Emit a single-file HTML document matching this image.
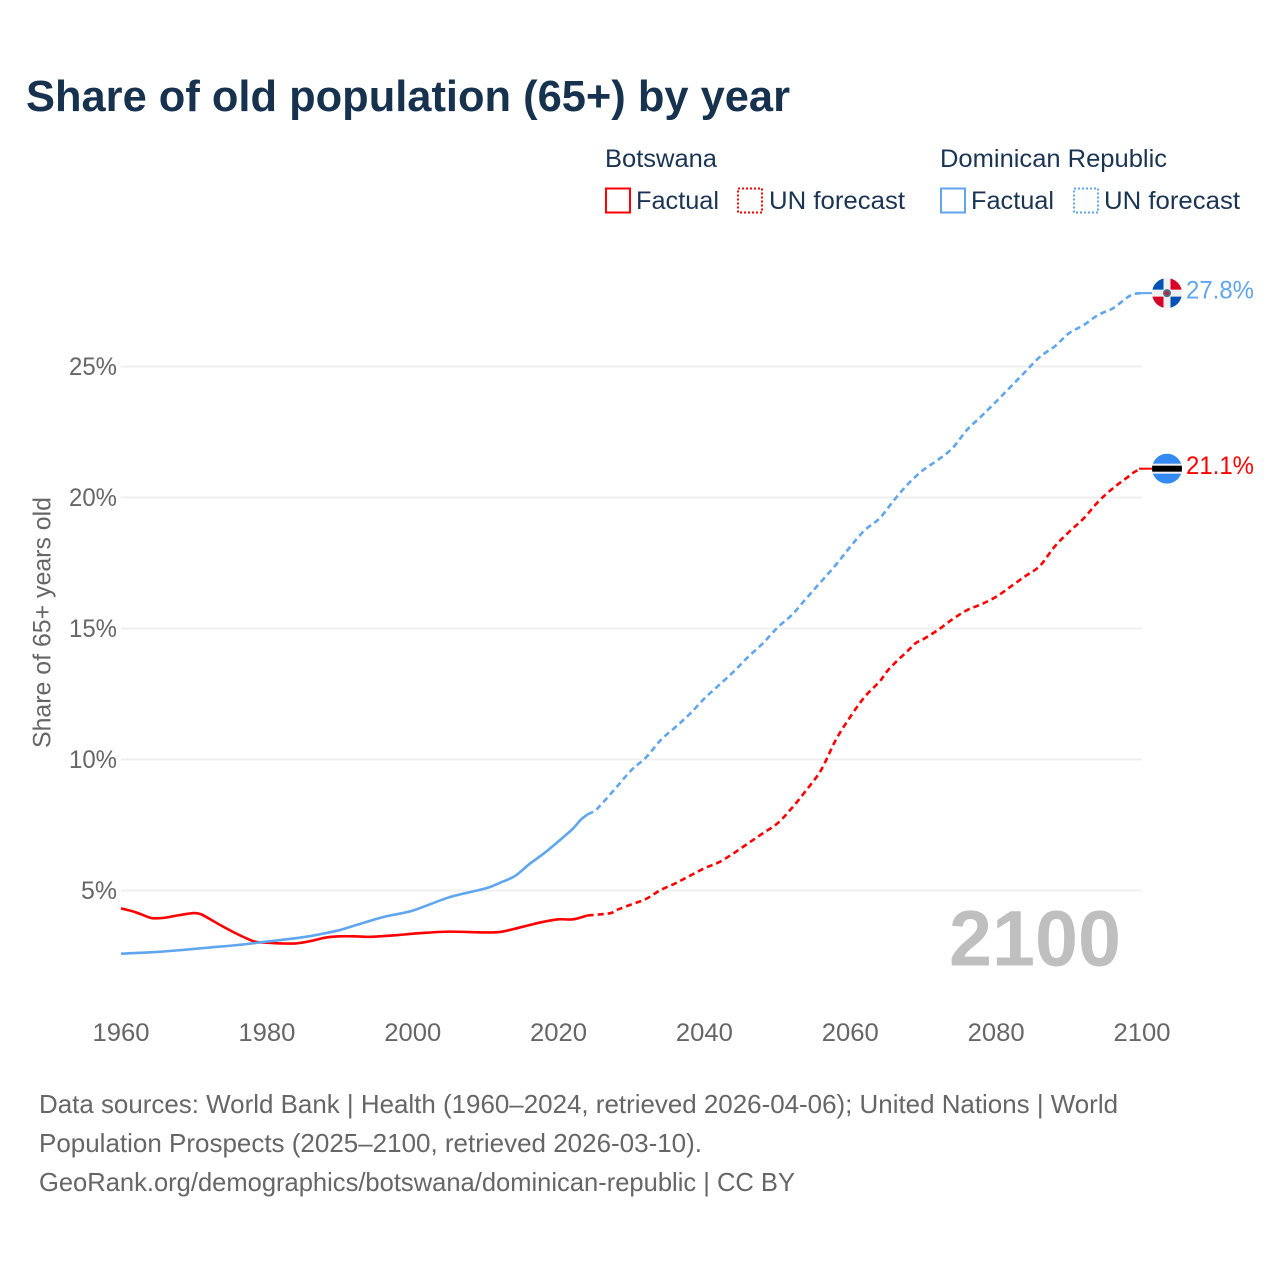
<!DOCTYPE html>
<html lang="en">
<head>
<meta charset="utf-8">
<title>Share of old population (65+) by year</title>
<style>
html,body{margin:0;padding:0;background:#fff;width:1280px;height:1280px;overflow:hidden}
svg{display:block}
text{font-family:"Liberation Sans",sans-serif}
.dark{fill:#1a3453}
.gray{fill:#666}
</style>
</head>
<body>
<svg id="chart" width="1280" height="1280" viewBox="0 0 1280 1280" xmlns="http://www.w3.org/2000/svg">
  <defs>
    <clipPath id="flag-clip"><circle cx="0" cy="0" r="15"/></clipPath>
  </defs>
  <text x="26" y="111" font-size="44" font-weight="700" fill="#17324f" textLength="764" lengthAdjust="spacingAndGlyphs">Share of old population (65+) by year</text>

  <g>
    <text class="dark" x="605" y="167" font-size="25" textLength="112" lengthAdjust="spacingAndGlyphs">Botswana</text>
    <rect x="606" y="188.500" width="24" height="24" fill="none" stroke="#ff0000" stroke-width="2"/>
    <text class="dark" x="636" y="209" font-size="25" textLength="83" lengthAdjust="spacingAndGlyphs">Factual</text>
    <rect x="738" y="188.500" width="24" height="24" fill="none" stroke="#ff0000" stroke-width="2" stroke-dasharray="2 2"/>
    <text class="dark" x="769" y="209" font-size="25" textLength="136" lengthAdjust="spacingAndGlyphs">UN forecast</text>

    <text class="dark" x="940" y="167" font-size="25" textLength="227" lengthAdjust="spacingAndGlyphs">Dominican Republic</text>
    <rect x="941" y="188.500" width="24" height="24" fill="none" stroke="#5fa6ee" stroke-width="2"/>
    <text class="dark" x="971" y="209" font-size="25" textLength="83" lengthAdjust="spacingAndGlyphs">Factual</text>
    <rect x="1074" y="188.500" width="24" height="24" fill="none" stroke="#5fa6ee" stroke-width="2" stroke-dasharray="2 2"/>
    <text class="dark" x="1104" y="209" font-size="25" textLength="136" lengthAdjust="spacingAndGlyphs">UN forecast</text>
  </g>

  <text class="gray" transform="translate(50.500,748) rotate(-90)" font-size="25" textLength="251" lengthAdjust="spacingAndGlyphs">Share of 65+ years old</text>

  <g id="grid"></g>
  <g id="yticks"></g>
  <g id="xticks"></g>

  <text id="year-label" x="1121" y="965.500" text-anchor="end" font-size="79" font-weight="700" fill="#bfbfbf" textLength="172" lengthAdjust="spacingAndGlyphs"></text>

  <g id="series"></g>

  <g id="flag-do">
    <g clip-path="url(#flag-clip)">
      <rect x="-15" y="-15" width="30" height="30" fill="#f0f0f0"/>
      <rect x="-15" y="-15" width="11.500" height="11.500" fill="#0052b4"/>
      <rect x="3.500" y="-15" width="11.500" height="11.500" fill="#d80027"/>
      <rect x="-15" y="3.500" width="11.500" height="11.500" fill="#d80027"/>
      <rect x="3.500" y="3.500" width="11.500" height="11.500" fill="#0052b4"/>
      <circle r="4" fill="#496e8c"/>
      <circle r="2" fill="#c8203a"/>
    </g>
  </g>
  <g id="flag-bw">
    <g clip-path="url(#flag-clip)">
      <rect x="-15" y="-15" width="30" height="30" fill="#338af3"/>
      <rect x="-15" y="-5" width="30" height="10" fill="#f0f0f0"/>
      <rect x="-15" y="-3" width="30" height="6" fill="#000"/>
    </g>
  </g>
  <text id="value-do" x="1186" font-size="25" fill="#5fa6ee" textLength="68" lengthAdjust="spacingAndGlyphs"></text>
  <text id="value-bw" x="1186" font-size="25" fill="#ff0000" textLength="68" lengthAdjust="spacingAndGlyphs"></text>

  <g>
    <text class="gray" x="39" y="1113" font-size="26" textLength="1079" lengthAdjust="spacingAndGlyphs">Data sources: World Bank | Health (1960–2024, retrieved 2026-04-06); United Nations | World</text>
    <text class="gray" x="39" y="1152" font-size="26" textLength="663" lengthAdjust="spacingAndGlyphs">Population Prospects (2025–2100, retrieved 2026-03-10).</text>
    <text class="gray" x="39" y="1191" font-size="26" textLength="756" lengthAdjust="spacingAndGlyphs">GeoRank.org/demographics/botswana/dominican-republic | CC BY</text>
  </g>
</svg>
<script>
const xTickYears = [1960, 1980, 2000, 2020, 2040, 2060, 2080, 2100];
const yTickValues = [5, 10, 15, 20, 25];
const lastFactualYear = 2024;
const displayYear = 2100;

const botswanaYears = [1960,1962,1964,1965,1966,1968,1970,1971,1972,1974,1976,1978,1979,1980,1982,1984,1986,1988,1990,1992,1994,1996,1998,2000,2002,2005,2010,2012,2014,2016,2018,2020,2022,2024,2027,2028,2030,2032,2034,2036,2038,2040,2042,2044,2046,2048,2050,2052,2054,2056,2058,2060,2062,2064,2065,2066,2068,2069,2070,2072,2074,2076,2078,2080,2082,2084,2086,2088,2090,2092,2094,2096,2098,2099,2100];
const botswanaValues = [4.32,4.17,3.96,3.94,3.96,4.06,4.14,4.09,3.94,3.62,3.33,3.08,3.02,3.01,2.98,2.98,3.07,3.2,3.25,3.25,3.23,3.26,3.30,3.35,3.39,3.43,3.40,3.42,3.54,3.68,3.81,3.90,3.90,4.05,4.13,4.26,4.47,4.68,5.02,5.27,5.56,5.85,6.08,6.42,6.8,7.18,7.56,8.15,8.84,9.6,10.74,11.63,12.4,12.97,13.35,13.65,14.18,14.45,14.59,14.94,15.35,15.7,15.93,16.21,16.6,17.0,17.39,18.12,18.69,19.2,19.84,20.35,20.77,20.98,21.1];

const dominicanYears = [1960,1964,1968,1972,1976,1980,1984,1986,1988,1990,1992,1996,2000,2005,2010,2012,2014,2016,2018,2020,2022,2023,2024,2025,2026,2028,2030,2032,2034,2036,2038,2040,2042,2044,2046,2048,2050,2052,2054,2056,2058,2060,2062,2064,2066,2068,2070,2072,2074,2076,2078,2080,2082,2084,2086,2088,2090,2092,2094,2096,2098,2099,2100];
const dominicanValues = [2.59,2.64,2.72,2.82,2.92,3.05,3.18,3.26,3.37,3.49,3.66,3.99,4.23,4.74,5.08,5.3,5.55,6.01,6.42,6.88,7.37,7.69,7.91,8.05,8.33,8.96,9.6,10.08,10.74,11.23,11.74,12.33,12.84,13.35,13.92,14.43,15.03,15.52,16.16,16.79,17.42,18.12,18.76,19.2,19.9,20.54,21.05,21.43,21.88,22.58,23.11,23.66,24.23,24.8,25.37,25.76,26.27,26.58,26.97,27.22,27.64,27.77,27.8];

const svgNS = 'http://www.w3.org/2000/svg';
const xScale = function (year) { return 121 + (year - 1960) * (1142 - 121) / 140; };
const yScale = function (value) { return 890.5 - (value - 5) * 26.2; };

function makeEl(tag, parent) {
  const el = document.createElementNS(svgNS, tag);
  parent.appendChild(el);
  return el;
}

const grid = document.getElementById('grid');
const yticks = document.getElementById('yticks');
const xticks = document.getElementById('xticks');
const series = document.getElementById('series');

yTickValues.forEach(function (v) {
  const line = makeEl('line', grid);
  
  
  line.setAttribute('x1', xScale(1960));
  line.setAttribute('x2', xScale(2100));
  line.setAttribute('y1', yScale(v));
  line.setAttribute('y2', yScale(v));
  line.setAttribute('stroke', '#eeeeee');
  line.setAttribute('stroke-width', '1.700');

  const label = makeEl('text', yticks);
  
  
  label.setAttribute('class', 'gray');
  label.setAttribute('x', 117);
  label.setAttribute('y', yScale(v) + 8.5);
  label.setAttribute('text-anchor', 'end');
  label.setAttribute('font-size', '25');
  label.setAttribute('textLength', v < 10 ? 36 : 48);
  label.setAttribute('lengthAdjust', 'spacingAndGlyphs');
  label.textContent = v + '%';
});

xTickYears.forEach(function (year) {
  const label = makeEl('text', xticks);
  
  
  label.setAttribute('class', 'gray');
  label.setAttribute('x', xScale(year));
  label.setAttribute('y', 1041);
  label.setAttribute('text-anchor', 'middle');
  label.setAttribute('font-size', '25');
  label.setAttribute('textLength', 57);
  label.setAttribute('lengthAdjust', 'spacingAndGlyphs');
  label.textContent = year;
});

function smoothPath(years, values, keep) {
  const pts = [];
  years.forEach(function (year, i) {
    if (keep(year)) pts.push([xScale(year), yScale(values[i])]);
  });
  let d = 'M' + pts[0][0].toFixed(2) + ' ' + pts[0][1].toFixed(2);
  for (let i = 0; i < pts.length - 1; i++) {
    const p0 = pts[Math.max(0, i - 1)];
    const p1 = pts[i];
    const p2 = pts[i + 1];
    const p3 = pts[Math.min(pts.length - 1, i + 2)];
    const c1x = p1[0] + (p2[0] - p0[0]) / 6;
    const c1y = p1[1] + (p2[1] - p0[1]) / 6;
    const c2x = p2[0] - (p3[0] - p1[0]) / 6;
    const c2y = p2[1] - (p3[1] - p1[1]) / 6;
    d += 'C' + c1x.toFixed(2) + ' ' + c1y.toFixed(2) + ' ' + c2x.toFixed(2) + ' ' + c2y.toFixed(2) + ' ' + p2[0].toFixed(2) + ' ' + p2[1].toFixed(2);
  }
  return d;
}

function drawSeries(name, years, values, color) {
  const factual = makeEl('path', series);
  
  
  factual.setAttribute('d', smoothPath(years, values, function (y) { return y <= lastFactualYear; }));
  factual.setAttribute('fill', 'none');
  factual.setAttribute('stroke', color);
  factual.setAttribute('stroke-width', '2.600');
  factual.setAttribute('stroke-linejoin', 'round');

  const forecast = makeEl('path', series);
  
  
  forecast.setAttribute('d', smoothPath(years, values, function (y) { return y >= lastFactualYear; }));
  forecast.setAttribute('fill', 'none');
  forecast.setAttribute('stroke', color);
  forecast.setAttribute('stroke-width', '2.600');
  forecast.setAttribute('stroke-linejoin', 'round');
  forecast.setAttribute('stroke-dasharray', '6 4');

  const last = values[values.length - 1];
  const leader = makeEl('line', series);
  
  
  leader.setAttribute('x1', xScale(2100) - 3);
  leader.setAttribute('x2', xScale(2100) + 10);
  leader.setAttribute('y1', yScale(last));
  leader.setAttribute('y2', yScale(last));
  leader.setAttribute('stroke', color);
  leader.setAttribute('stroke-width', '2');
}

drawSeries('botswana', botswanaYears, botswanaValues, '#ff0000');
drawSeries('dominican-republic', dominicanYears, dominicanValues, '#5fa6ee');

function placeEnd(flagId, valueId, values) {
  const last = values[values.length - 1];
  const y = yScale(last);
  document.getElementById(flagId).setAttribute('transform', 'translate(' + (xScale(2100) + 25) + ',' + y + ')');
  const t = document.getElementById(valueId);
  t.setAttribute('y', y + 5.5);
  t.textContent = last.toFixed(1) + '%';
}
placeEnd('flag-do', 'value-do', dominicanValues);
placeEnd('flag-bw', 'value-bw', botswanaValues);

document.getElementById('year-label').textContent = displayYear;
</script>
</body>
</html>
